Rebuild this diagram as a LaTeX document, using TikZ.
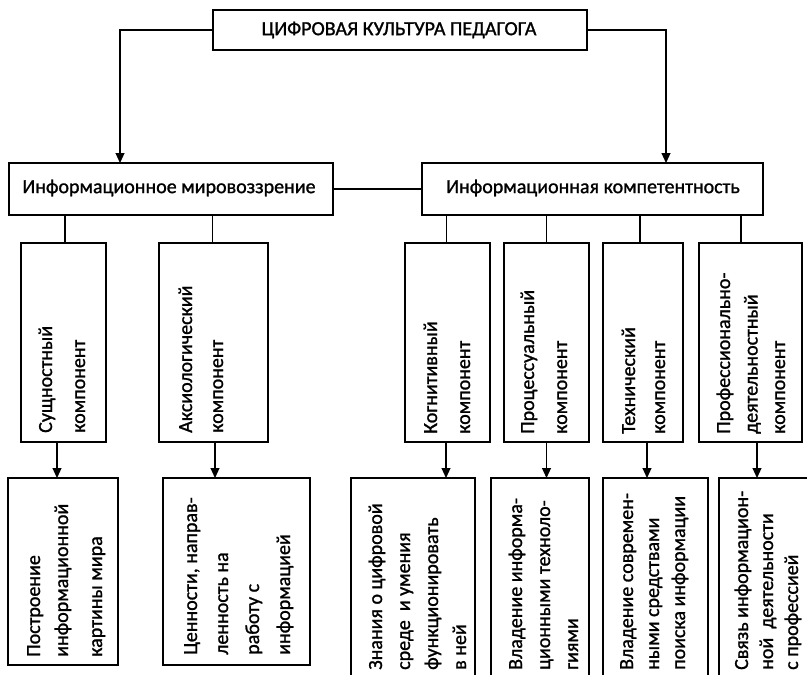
\documentclass[tikz,border=0pt]{standalone}
\usepackage{fontspec}
\setmainfont[FakeBold=1.2,AutoFakeBold=0]{Carlito}
\usetikzlibrary{arrows.meta}

\tikzset{
  box/.style={draw, line width=1.1pt, inner sep=0pt, outer sep=0pt},
  link/.style={line width=1.1pt},
  arr/.style={line width=1.1pt, -{Triangle[width=9pt,length=10pt]}},
  % rotated labels are placed by the baseline of their last line
  vtext/.style={rotate=90, anchor=base west, align=left, inner sep=0pt},
  htext/.style={inner sep=0pt, font=\fontsize{20}{24}\selectfont},
}

\begin{document}
\begin{tikzpicture}[x=1pt, y=-1pt]
  \useasboundingbox (0,0) rectangle (807,675);
  \fill[white] (0,0) rectangle (807,675);
  \clip (0,0) rectangle (807,675);

  % upper levels
  \node[box, minimum width=374pt, minimum height=40pt] (top) at (400,30) {};
  \node[htext] (toptx) at (399,30) {ЦИФРОВАЯ КУЛЬТУРА ПЕДАГОГА};
  \node[box, minimum width=324pt, minimum height=52pt] (mw) at (171,189) {};
  \node[htext] (mwtx) at (169,188) {Информационное мировоззрение};
  \node[box, minimum width=341pt, minimum height=52pt] (ic) at (592.5,189) {};
  \node[htext] (ictx) at (593,188) {Информационная компетентность};

  % components
  \node[box, minimum width=85pt,  minimum height=199pt] (c1) at (63.5,342.5) {};
  \node[box, minimum width=109pt, minimum height=199pt] (c2) at (213.5,342.5) {};
  \node[box, minimum width=85pt,  minimum height=199pt] (c3) at (447.5,342.5) {};
  \node[box, minimum width=85pt,  minimum height=199pt] (c4) at (546.5,342.5) {};
  \node[box, minimum width=80pt,  minimum height=199pt] (c5) at (643,342.5) {};
  \node[box, minimum width=103pt, minimum height=199pt] (c6) at (750.5,342.5) {};

  \node[vtext, font=\fontsize{20}{33}\selectfont] (c1tx) at (85,433) {Сущностный\\компонент};
  \node[vtext, font=\fontsize{20}{31}\selectfont] (c2tx) at (223,433) {Аксиологический\\компонент};
  \node[vtext, font=\fontsize{20}{33}\selectfont] (c3tx) at (470,434) {Когнитивный\\компонент};
  \node[vtext, font=\fontsize{20}{33}\selectfont] (c4tx) at (567,434) {Процессуальный\\компонент};
  \node[vtext, font=\fontsize{20}{30}\selectfont] (c5tx) at (665,434) {Технический\\компонент};
  \node[vtext, font=\fontsize{20}{27.5}\selectfont] (c6tx) at (785,434) {Профессионально-\\деятельностный\\компонент};

  % contents
  \node[box, minimum width=110pt, minimum height=187pt] (b1) at (63,571.5) {};
  \node[box, minimum width=147pt, minimum height=187pt] (b2) at (236.5,571.5) {};
  \node[box, minimum width=124pt, minimum height=217pt] (b3) at (413,586.5) {};
  \node[box, minimum width=98pt,  minimum height=217pt] (b4) at (540,586.5) {};
  \node[box, minimum width=105pt, minimum height=217pt] (b5) at (655.5,586.5) {};
  \node[box, minimum width=111pt, minimum height=217pt] (b6) at (774.5,586.5) {};

  \node[vtext, font=\fontsize{20}{28}\selectfont] (b1tx) at (102,657) {Построение\\информационной\\[6pt]картины мира};
  \node[vtext, font=\fontsize{20}{31}\selectfont] (b2tx) at (290,655) {Ценности, направ-\\ленность на\\работу с\\информацией};
  \node[vtext, font=\fontsize{20}{28}\selectfont] (b3tx) at (466,670) {Знания о цифровой\\среде\ \ и умения\\функционировать\\в ней};
  \node[vtext, font=\fontsize{20}{28}\selectfont] (b4tx) at (578,670) {Владение информа-\\ционными техноло-\\гиями};
  \node[vtext, font=\fontsize{20}{26}\selectfont] (b5tx) at (685,670) {Владение современ-\\ными средствами\\поиска информации};
  \node[vtext, font=\fontsize{20}{25}\selectfont] (b6tx) at (798,670) {Связь информацион-\\ной\ \ деятельности\\с профессией};

  % connectors
  \draw[arr] (top.west) -| ([xshift=111pt]mw.north west);
  \draw[arr] (top.east) -| ([xshift=244pt]ic.north west);
  \draw[link] (mw.east) -- (ic.west);

  \draw[link] ([xshift=1.5pt]c1.north) -- ([xshift=1.5pt]c1.north |- mw.south);
  \draw[link] ([xshift=-1pt]c2.north) -- ([xshift=-1pt]c2.north |- mw.south);
  \draw[link] ([xshift=-1pt]c3.north) -- ([xshift=-1pt]c3.north |- ic.south);
  \draw[link] (c4.north) -- (c4.north |- ic.south);
  \draw[link] ([xshift=-3pt]c5.north) -- ([xshift=-3pt]c5.north |- ic.south);
  \draw[link] ([xshift=-9.5pt]c6.north) -- ([xshift=-9.5pt]c6.north |- ic.south);

  \draw[arr] ([xshift=-6.5pt]c1.south) -- ([xshift=-6.5pt]c1.south |- b1.north);
  \draw[arr] ([xshift=1.5pt]c2.south) -- ([xshift=1.5pt]c2.south |- b2.north);
  \draw[arr] ([xshift=-1.5pt]c3.south) -- ([xshift=-1.5pt]c3.south |- b3.north);
  \draw[arr] (c4.south) -- (c4.south |- b4.north);
  \draw[arr] ([xshift=4pt]c5.south) -- ([xshift=4pt]c5.south |- b5.north);
  \draw[arr] ([xshift=6.5pt]c6.south) -- ([xshift=6.5pt]c6.south |- b6.north);
\end{tikzpicture}
\end{document}
